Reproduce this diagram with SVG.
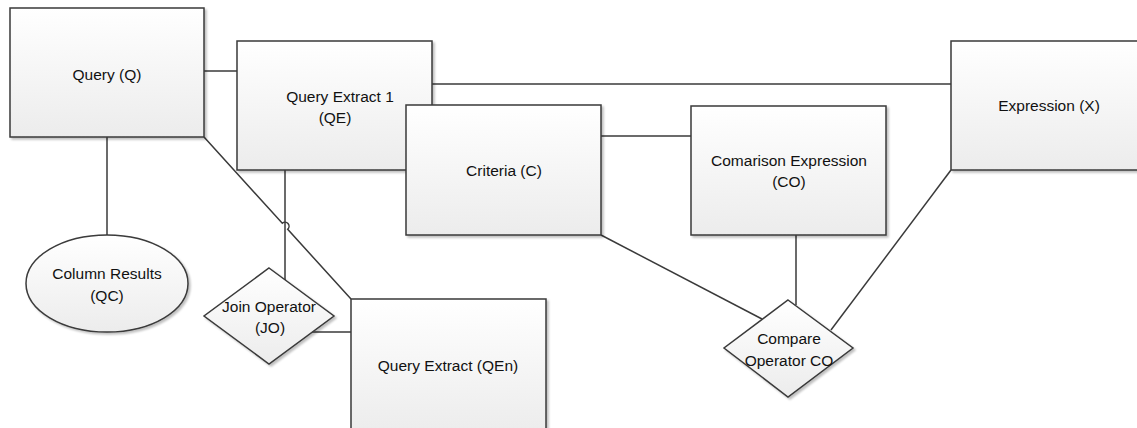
<svg xmlns="http://www.w3.org/2000/svg" width="1137" height="428" viewBox="0 0 1137 428">
  <style>
    .shape { stroke: #3a3a3a; stroke-width: 1.5; fill: url(#fillGrad); filter: url(#shadow); }
    .conn { stroke: #3a3a3a; stroke-width: 1.5; fill: none; }
    .label { font-family: "Liberation Sans", Arial, sans-serif; font-size: 15.5px; fill: #111111; text-anchor: middle; }
  </style>
  <defs>
    <linearGradient id="fillGrad" x1="0" y1="0" x2="0" y2="1">
      <stop offset="0" stop-color="#ffffff"/>
      <stop offset="1" stop-color="#ececec"/>
    </linearGradient>
    <filter id="shadow" x="-10%" y="-10%" width="130%" height="130%">
      <feGaussianBlur in="SourceAlpha" stdDeviation="1.2"/>
      <feOffset dx="2" dy="2" result="off"/>
      <feComponentTransfer><feFuncA type="linear" slope="0.25"/></feComponentTransfer>
      <feMerge><feMergeNode/><feMergeNode in="SourceGraphic"/></feMerge>
    </filter>
  </defs>
  <rect width="1137" height="428" fill="#ffffff"/>

  <g id="connectors">
    <!-- Query to Query Extract 1 -->
    <line class="conn" x1="204" y1="71" x2="237" y2="71"/>
    <!-- Query Extract 1 to Expression -->
    <line class="conn" x1="432" y1="84" x2="951" y2="84"/>
    <!-- Criteria to Comparison Expression -->
    <line class="conn" x1="601" y1="136" x2="691" y2="136"/>
    <!-- Comparison Expression to Compare Operator -->
    <line class="conn" x1="796" y1="235" x2="796" y2="305"/>
    <!-- Criteria to Compare Operator -->
    <line class="conn" x1="601" y1="235" x2="762" y2="319"/>
    <!-- Expression to Compare Operator -->
    <line class="conn" x1="951" y1="170" x2="831" y2="330"/>
    <!-- Query to Column Results -->
    <line class="conn" x1="107" y1="137" x2="107" y2="235"/>
    <!-- Query Extract 1 to Join Operator -->
    <line class="conn" x1="285" y1="170" x2="285" y2="280"/>
    <!-- Query to Query Extract (QEn), with a line jump over the vertical -->
    <path class="conn" d="M204,137 L282.3,223.3 A4,4 0 0 1 287.7,229.3 L351,299"/>
    <!-- Join Operator to Query Extract (QEn) -->
    <line class="conn" x1="312" y1="332" x2="351" y2="332"/>
  </g>

  <g id="query">
    <rect class="shape" x="10" y="8" width="194" height="129"/>
    <text class="label" x="107" y="80">Query (Q)</text>
  </g>

  <g id="query-extract-1">
    <rect class="shape" x="237" y="41" width="195" height="129"/>
    <text class="label" x="340" y="102">Query Extract 1</text>
    <text class="label" x="335" y="123">(QE)</text>
  </g>

  <g id="criteria">
    <rect class="shape" x="406" y="105" width="195" height="130"/>
    <text class="label" x="504" y="176">Criteria (C)</text>
  </g>

  <g id="comparison-expression">
    <rect class="shape" x="691" y="106" width="195" height="129"/>
    <text class="label" x="789" y="166">Comarison Expression</text>
    <text class="label" x="789" y="187">(CO)</text>
  </g>

  <g id="expression">
    <rect class="shape" x="951" y="41" width="197" height="129"/>
    <text class="label" x="1049" y="111">Expression (X)</text>
  </g>

  <g id="column-results">
    <ellipse class="shape" cx="107" cy="283.5" rx="81" ry="48.5"/>
    <text class="label" x="107" y="279">Column Results</text>
    <text class="label" x="107" y="301">(QC)</text>
  </g>

  <g id="join-operator">
    <polygon class="shape" points="269,268 334,316 269,364 204,316"/>
    <text class="label" x="269" y="312">Join Operator</text>
    <text class="label" x="270" y="333">(JO)</text>
  </g>

  <g id="query-extract-n">
    <rect class="shape" x="351" y="299" width="195" height="135"/>
    <text class="label" x="448" y="371">Query Extract (QEn)</text>
  </g>

  <g id="compare-operator">
    <polygon class="shape" points="788,300 853,348 788,397 724,348"/>
    <text class="label" x="789" y="344">Compare</text>
    <text class="label" x="789" y="366">Operator CO</text>
  </g>
</svg>
